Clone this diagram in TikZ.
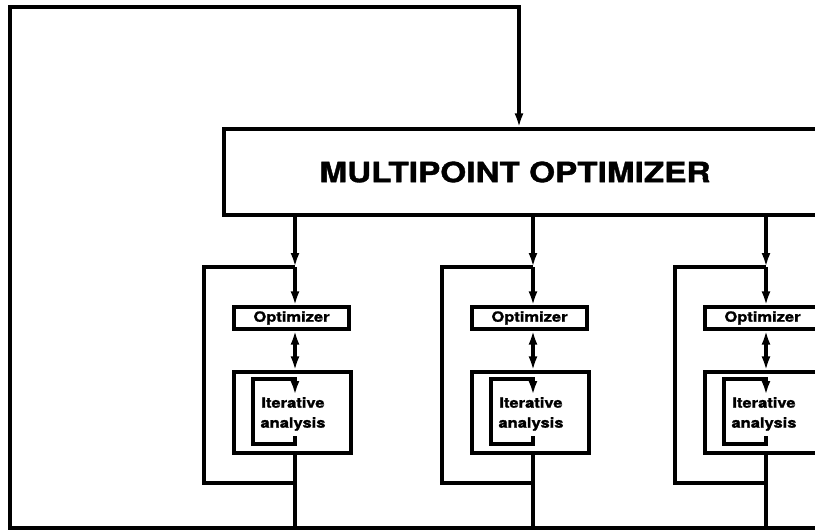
\documentclass[tikz,border=0pt]{standalone}
\usepackage{fontspec}
\setmainfont{TeX Gyre Heros}[BoldFeatures={FakeBold=1.2}]
\usetikzlibrary{arrows.meta}
\newcommand\hstretch[2][1.18]{\scalebox{#1}[1]{#2}}
\begin{document}
\begin{tikzpicture}[x=0.5pt,y=-0.5pt,
  ln/.style={line width=1.6pt},
  arr/.style={ln,-{Latex[length=7pt,width=4.5pt]}},
  arrtwo/.style={ln,{Latex[length=7pt,width=4.5pt]}-{Latex[length=7pt,width=4.5pt]}},
  bigbox/.style={draw,line width=1.6pt,minimum width=310pt,minimum height=43pt,inner sep=0pt},
  optbox/.style={draw,line width=1.6pt,minimum width=57.5pt,minimum height=11pt,inner sep=0pt,font=\bfseries\fontsize{7}{10}\selectfont},
  anbox/.style={draw,line width=1.6pt,minimum width=58.5pt,minimum height=40.5pt,inner sep=0pt},
  bigtext/.style={font=\bfseries\fontsize{14}{16}\selectfont,inner sep=0pt},
  antext/.style={font=\bfseries\fontsize{7}{10}\selectfont,align=center,inner sep=0pt}]
\useasboundingbox (0,0) rectangle (815,530);
\clip (0,0) rectangle (815,530);
\fill[white] (0,0) rectangle (815,530);
% multipoint optimizer
\node[bigbox] (mpo) at (534,172) {};
\node[bigtext] (mpolabel) at (515,172) {\hstretch[1.19]{MULTIPOINT OPTIMIZER}};
% outer feedback loop
\coordinate (br) at (830,528);
\coordinate (bl) at (10,528);
\coordinate (tl) at (10,7);
\coordinate (tr) at (519,7);
\draw[arr] (br) -- (bl) -- (tl) -- (tr) -- (tr |- mpo.north);
% columns
\foreach \X/\i in {295/1,533/2,766/3}{
  \node[optbox] (opt\i) at (\X-3.5,318) {\hstretch{Optimizer}};
  \node[anbox] (an\i) at (\X-2.5,412.5) {};
  \node[antext] (ant\i) at (\X-2,414) {\hstretch{Iterative}\\\hstretch{analysis}};
  \coordinate (in\i) at (\X,215);
  \coordinate (j\i) at (\X,267);
  \coordinate (fl\i) at (\X-91,267);
  \coordinate (fb\i) at (\X,483);
  \coordinate (out\i) at (\X,528);
  \coordinate (ls\i) at (\X,436);
  \coordinate (le\i) at (\X,395);
  \coordinate (lt\i) at (\X,379);
  \coordinate (ll\i) at (\X-42,444);
  \draw[arr] (in\i) -- (j\i);
  \draw[arr] (j\i) -- (j\i |- opt\i.north);
  \draw[arrtwo] (j\i |- opt\i.south) -- (j\i |- an\i.north);
  \draw[ln] (j\i) -| (fl\i) |- (fb\i);
  \draw[ln] (j\i |- an\i.south) -- (out\i);
  \draw[arr] (ls\i) -- (ls\i |- ll\i) -- (ll\i) -- (ll\i |- lt\i) -- (lt\i) -- (le\i);
}
\end{tikzpicture}
\end{document}
